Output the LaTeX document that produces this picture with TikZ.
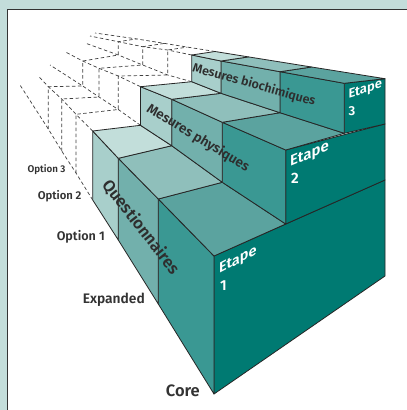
\documentclass[tikz,border=0pt]{standalone}
\usepackage{fontspec}
\setmainfont{Fira Sans}[BoldFont={* SemiBold}]
\definecolor{frame}{HTML}{C3DDDA}
\definecolor{etape}{HTML}{007A72}
\definecolor{sideA}{HTML}{3A9893}
\definecolor{sideB}{HTML}{72B0AC}
\definecolor{sideC}{HTML}{A8CFCB}
\definecolor{topA}{HTML}{5BA39F}
\definecolor{topB}{HTML}{8FBFBB}
\definecolor{topC}{HTML}{C2DEDA}
\definecolor{ink}{HTML}{333333}
\begin{document}
\begin{tikzpicture}[x=1pt,y=-1pt,
  edge/.style={draw=black!85, line width=0.8pt, line join=round},
  hid/.style={draw=black!75, line width=0.7pt, dash pattern=on 3.5pt off 2.5pt},
  lbl/.style={font=\bfseries, text=ink, inner sep=0pt},
  facetxt/.style={font=\bfseries, text=ink!90!black, inner sep=0pt},
  steptxt/.style={font=\bfseries, text=white, inner sep=0pt, anchor=base west}]
\useasboundingbox (0,0) rectangle (407,410);
% panel
\fill[frame] (0,0) rectangle (407,410);
\fill[white] (7,9.5) rectangle (407,410);
\draw[line width=1pt, ink] (7,410) -- (7,9.5) -- (407,9.5);

% profile corners: p<k>b<i>, k = corner of the stair profile, i = depth boundary
\coordinate (p0b0) at (214,394);   \coordinate (p1b0) at (214,256);
\coordinate (p2b0) at (285.7,224); \coordinate (p3b0) at (285.7,150);
\coordinate (p4b0) at (344.3,133.3); \coordinate (p5b0) at (344.3,83.3);
\coordinate (p6b0) at (385,78.7);
\coordinate (p0b1) at (158.3,304); \coordinate (p1b1) at (158.3,199);
\coordinate (p2b1) at (222.3,182.3); \coordinate (p3b1) at (222.3,122.3);
\coordinate (p4b1) at (280,112.7); \coordinate (p5b1) at (280,71.7);
\coordinate (p6b1) at (311.6,67);
\coordinate (p0b2) at (118.3,240); \coordinate (p1b2) at (118.3,158.3);
\coordinate (p2b2) at (171.7,145.7); \coordinate (p3b2) at (171.7,99.3);
\coordinate (p4b2) at (221,93.3); \coordinate (p5b2) at (221,61);
\coordinate (p6b2) at (248.5,56.9);
\coordinate (p0b3) at (92.7,200); \coordinate (p1b3) at (92.7,131);
\coordinate (p2b3) at (140.5,125.3); \coordinate (p3b3) at (140.5,86.7);
\coordinate (p4b3) at (191.7,81.7); \coordinate (p5b3) at (191.7,55);
\coordinate (p6b3) at (215,51.5);
\coordinate (p0b4) at (76,173); \coordinate (p1b4) at (76,114.3);
\coordinate (p2b4) at (118.3,109.5); \coordinate (p3b4) at (118.3,76);
\coordinate (p4b4) at (167.7,75); \coordinate (p5b4) at (167.7,50);
\coordinate (p6b4) at (187.4,47.1);
\coordinate (p0b5) at (61.7,151); \coordinate (p1b5) at (61.7,99);
\coordinate (p2b5) at (99,97); \coordinate (p3b5) at (99,68.3);
\coordinate (p4b5) at (142.7,65); \coordinate (p5b5) at (142.7,46.7);
\coordinate (p6b5) at (164.5,43.4);
\coordinate (p0b6) at (48.3,129); \coordinate (p1b6) at (48.3,86.7);
\coordinate (p2b6) at (82.7,86); \coordinate (p3b6) at (82.7,61);
\coordinate (p4b6) at (118.3,55); \coordinate (p5b6) at (118.3,41.7);
\coordinate (p6b6) at (136.5,38.9);
% loose ends of the receding lines
\coordinate (p0e) at (20,85); \coordinate (p1e) at (38.3,76);
\coordinate (p2e) at (50,65); \coordinate (p3e) at (65,51.7);
\coordinate (p4e) at (85,43); \coordinate (p5e) at (90,36);
\coordinate (p6e) at (95,33);
% right silhouette
\coordinate (r0) at (385,276); \coordinate (r1) at (385,180); \coordinate (r2) at (385,124);

% dashed optional blocks
\foreach \b in {4,5,6}
  \draw[hid] (p0b\b) -- (p1b\b) -- (p2b\b) -- (p3b\b) -- (p4b\b) -- (p5b\b) -- (p6b\b);
\foreach \k in {0,...,6}
  \draw[hid] (p\k b3) -- (p\k b4) -- (p\k b5) -- (p\k b6) -- (p\k e);

% step fronts
\filldraw[edge, fill=etape] (p1b0) -- (r1) -- (r0) -- (p0b0) -- cycle;
\filldraw[edge, fill=etape] (p2b0) -- (p3b0) -- (r2) -- (r1) -- cycle;
\filldraw[edge, fill=etape] (p4b0) -- (p5b0) -- (p6b0) -- (r2) -- cycle;

% side and top faces of each section
\foreach \s/\t/\sc/\tc in {0/1/sideA/topA, 1/2/sideB/topB, 2/3/sideC/topC} {
  \filldraw[edge, fill=\sc] (p1b\s) -- (p0b\s) -- (p0b\t) -- (p1b\t) -- cycle;
  \filldraw[edge, fill=\tc] (p1b\s) -- (p2b\s) -- (p2b\t) -- (p1b\t) -- cycle;
  \filldraw[edge, fill=\sc] (p3b\s) -- (p2b\s) -- (p2b\t) -- (p3b\t) -- cycle;
  \filldraw[edge, fill=\tc] (p3b\s) -- (p4b\s) -- (p4b\t) -- (p3b\t) -- cycle;
  \filldraw[edge, fill=\sc] (p5b\s) -- (p4b\s) -- (p4b\t) -- (p5b\t) -- cycle;
  \filldraw[edge, fill=\tc] (p5b\s) -- (p6b\s) -- (p6b\t) -- (p5b\t) -- cycle;
}

% texts on the faces
\node[facetxt, rotate=-52, font=\bfseries\fontsize{16.5}{16.5}\selectfont] (q) at (141,227) {Questionnaires};
\node[facetxt, rotate=-31, font=\bfseries\fontsize{13.5}{13.5}\selectfont] (mp) at (198,138) {Mesures physiques};
\node[facetxt, rotate=-15.6, font=\bfseries\fontsize{12.5}{12.5}\selectfont] (mb) at (254,85) {Mesures biochimiques};

\node[steptxt, yslant=0.53, font=\bfseries\fontsize{14.5}{14.5}\selectfont] (e1) at (219,274) {Etape};
\node[steptxt, font=\bfseries\fontsize{14.5}{14.5}\selectfont] (n1) at (220,290) {1};
\node[steptxt, yslant=0.42, font=\bfseries\fontsize{15}{15}\selectfont] (e2) at (290,166.7) {Etape};
\node[steptxt, font=\bfseries\fontsize{15}{15}\selectfont] (n2) at (291,183) {2};
\node[steptxt, yslant=0.32, font=\bfseries\fontsize{13}{13}\selectfont] (e3) at (348.3,98.3) {Etape};
\node[steptxt, font=\bfseries\fontsize{13}{13}\selectfont] (n3) at (348.5,115) {3};

% depth labels
\node[lbl, font=\bfseries\fontsize{16.5}{16.5}\selectfont, anchor=base east] (lc) at (200,396) {Core};
\node[lbl, font=\bfseries\fontsize{13.8}{13.8}\selectfont, anchor=base east] (le) at (145,303) {Expanded};
\node[lbl, font=\bfseries\fontsize{12.6}{12.6}\selectfont, anchor=base east] (lo1) at (105,240) {Option 1};
\node[lbl, font=\bfseries\fontsize{11.3}{11.3}\selectfont, anchor=base east] (lo2) at (81.7,199) {Option 2};
\node[lbl, font=\bfseries\fontsize{9.8}{9.8}\selectfont, anchor=base east] (lo3) at (65.7,172.5) {Option 3};
\end{tikzpicture}
\end{document}
